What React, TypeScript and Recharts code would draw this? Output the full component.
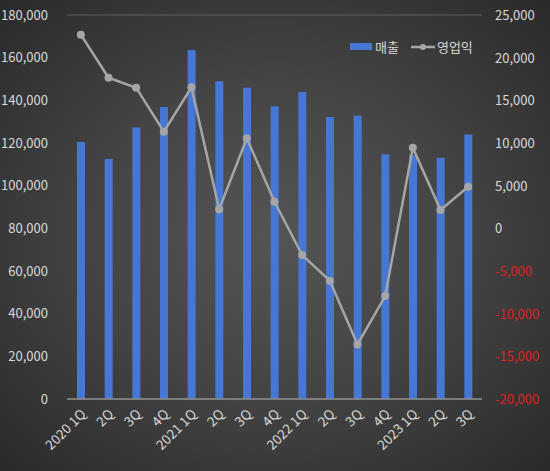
import { Bar, CartesianGrid, ComposedChart, Legend, Line, XAxis, YAxis } from "recharts";

const quarters = [
  "2020 1Q", "2Q", "3Q", "4Q",
  "2021 1Q", "2Q", "3Q", "4Q",
  "2022 1Q", "2Q", "3Q", "4Q",
  "2023 1Q", "2Q", "3Q",
];
const sales = [
  120500, 112500, 127300, 136900,
  163600, 149000, 145900, 137200,
  143900, 132200, 132800, 114700,
  114200, 113100, 124000,
];
const profit = [
  22700, 17650, 16480, 11320,
  16520, 2230, 10550, 3120,
  -3130, -6140, -13600, -7930,
  9450, 2150, 4880,
];
const leftTicks = [0, 20000, 40000, 60000, 80000, 100000, 120000, 140000, 160000, 180000];
const rightTicks = [-20000, -15000, -10000, -5000, 0, 5000, 10000, 15000, 20000, 25000];

const FONT = "'Noto Sans CJK KR', 'Noto Sans', sans-serif";
const TEXT = "#d9d9d9";
const BLUE = "#4677d4";
const GRAY = "#a6a6a6";

const data = quarters.map((q, i) => ({ q, sales: sales[i], profit: profit[i] }));

const fmt = (v: number) => v.toLocaleString("en-US");

function XTick({ x, y, payload }: any) {
  return (
    <text
      x={x + 6}
      y={y + 8}
      transform={`rotate(-45, ${x + 6}, ${y + 8})`}
      textAnchor="end"
      fill={TEXT}
      fontSize={13.5}
      fontFamily={FONT}
    >
      {payload.value}
    </text>
  );
}

function RightTick({ x, y, payload }: any) {
  return (
    <text x={x} y={y} dy={5} textAnchor="start" fill={payload.value < 0 ? "#e02020" : TEXT} fontSize={13} fontFamily={FONT}>
      {fmt(payload.value)}
    </text>
  );
}

function LegendBox() {
  return (
    <div style={{ display: "flex", alignItems: "center", fontFamily: FONT, fontSize: 13, color: TEXT }}>
      <span style={{ width: 22, height: 7, background: BLUE, display: "inline-block", marginRight: 3 }} />
      <span style={{ marginRight: 12 }}>매출</span>
      <svg width={24} height={10} style={{ marginRight: 2 }}>
        <line x1={0} y1={5} x2={24} y2={5} stroke={GRAY} strokeWidth={2.5} />
        <circle cx={12} cy={5} r={3} fill={GRAY} />
      </svg>
      <span>영업익</span>
    </div>
  );
}

export default function App() {
  return (
    <div
      style={{
        position: "absolute",
        left: 0,
        top: 0,
        width: 550,
        height: 471,
        background: "radial-gradient(ellipse at 50% 50%, #555555 0%, #454545 45%, #2a2a2a 100%)",
      }}
    >
      <ComposedChart width={550} height={471} data={data} margin={{ top: 15, right: 0, bottom: 0, left: 0 }}>
        <CartesianGrid vertical={false} stroke="#5e5e5e" strokeWidth={1} />
        <XAxis
          dataKey="q"
          height={72}
          interval={0}
          tickLine={false}
          axisLine={{ stroke: "#8c8c8c", strokeWidth: 1.5 }}
          tick={<XTick />}
        />
        <YAxis
          yAxisId="left"
          width={67}
          domain={[0, 180000]}
          ticks={leftTicks}
          axisLine={false}
          tickLine={false}
          tickSize={0}
          tickMargin={19}
          tickFormatter={fmt}
          tick={{ fill: TEXT, fontSize: 13, fontFamily: FONT }}
        />
        <YAxis
          yAxisId="right"
          orientation="right"
          width={68}
          domain={[-20000, 25000]}
          ticks={rightTicks}
          axisLine={false}
          tickLine={false}
          tickSize={0}
          tickMargin={13}
          tick={<RightTick />}
        />
        <Legend
          verticalAlign="middle"
          align="center"
          content={<LegendBox />}
          wrapperStyle={{ position: "absolute", top: 37, left: 350, width: 140 }}
        />
        <Bar yAxisId="left" dataKey="sales" name="매출" fill={BLUE} barSize={8} isAnimationActive={false} />
        <Line
          yAxisId="right"
          dataKey="profit"
          name="영업익"
          stroke={GRAY}
          strokeWidth={2.5}
          dot={{ r: 4, fill: GRAY, stroke: GRAY, strokeWidth: 0 }}
          activeDot={false}
          isAnimationActive={false}
        />
      </ComposedChart>
    </div>
  );
}
